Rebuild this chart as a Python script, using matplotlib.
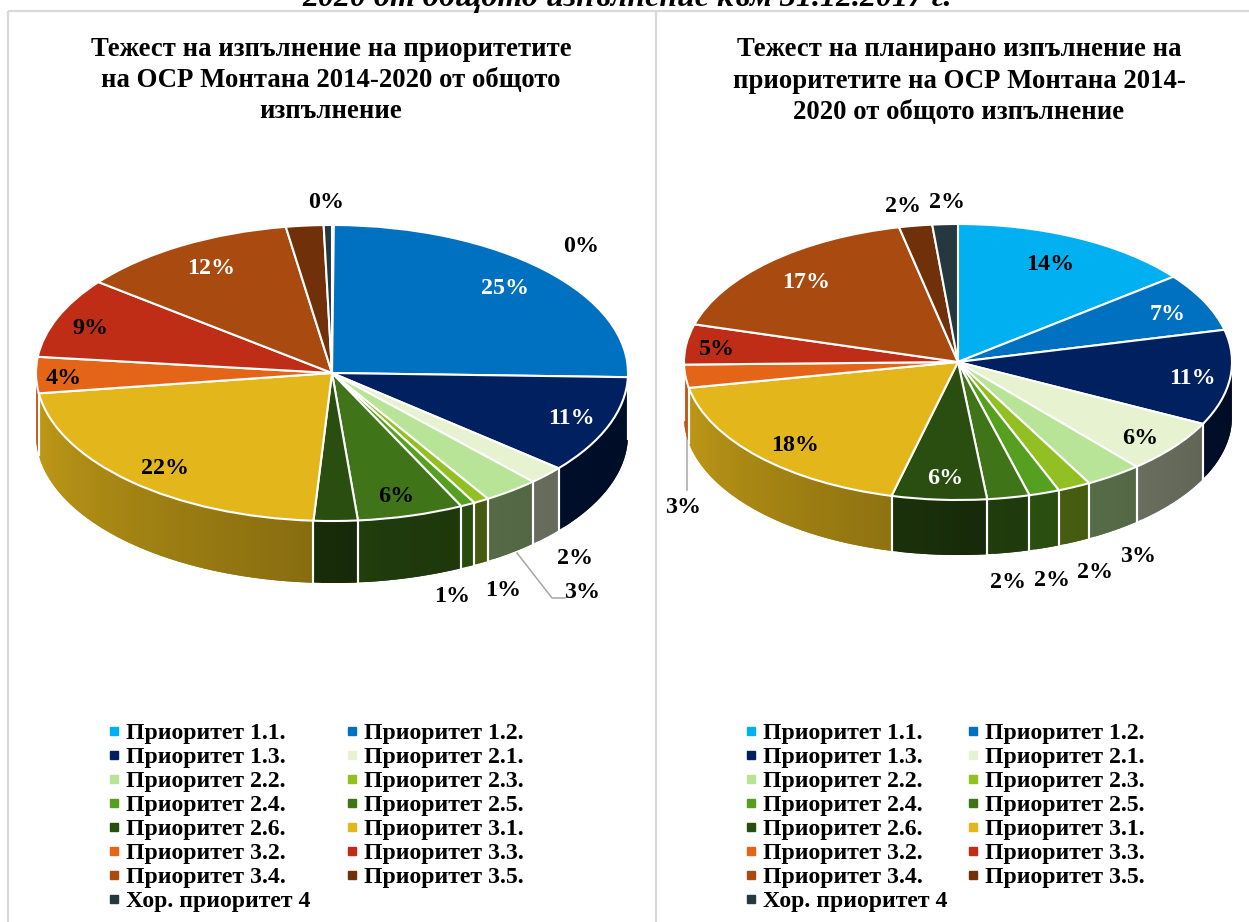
import numpy as np
import matplotlib
matplotlib.use("Agg")
import matplotlib.pyplot as plt
from matplotlib.colors import to_rgb
from matplotlib.lines import Line2D

W, H = 1249, 922

# ── Data ───────────────────────────────────────────────────────────────────────
names = ["Приоритет 1.1.", "Приоритет 1.2.", "Приоритет 1.3.", "Приоритет 2.1.",
         "Приоритет 2.2.", "Приоритет 2.3.", "Приоритет 2.4.", "Приоритет 2.5.",
         "Приоритет 2.6.", "Приоритет 3.1.", "Приоритет 3.2.", "Приоритет 3.3.",
         "Приоритет 3.4.", "Приоритет 3.5.", "Хор. приоритет 4"]
colors = ["#00B0F0", "#0070C0", "#002060", "#E6F2D0", "#B7E496", "#92C022", "#55A020",
          "#3F7518", "#2A4D10", "#E3B61B", "#E46418", "#C02D16", "#A94B10", "#70310A",
          "#25383F"]

left_vals = [0.1, 25.4, 10.7, 2.0, 3.05, 0.85, 0.8, 5.8, 2.4, 21.85, 3.95, 8.8, 12.0, 2.05, 0.45]
left_text = ["0%", "25%", "11%", "2%", "3%", "1%", "1%", "6%", "", "22%", "4%", "9%", "12%", "", "0%"]
right_vals = [14.4, 6.85, 11.15, 6.3, 3.35, 1.95, 1.8, 2.5, 5.6, 18.1, 2.7, 4.7, 17.15, 1.95, 1.5]
right_text = ["14%", "7%", "11%", "6%", "3%", "2%", "2%", "2%", "6%", "18%", "3%", "5%", "17%", "2%", "2%"]

header = "2020 от общото изпълнение към 31.12.2017 г."
left_title = ["Тежест на изпълнение на приоритетите", "на ОСР Монтана 2014-2020 от общото", "изпълнение"]
right_title = ["Тежест на планирано изпълнение на", "приоритетите на ОСР Монтана 2014-", "2020 от общото изпълнение"]

# ── Label placement (pixels) ───────────────────────────────────────────────────
left_pos = [(581, 246), (505, 288), (571, 418), (575, 558), (582, 592), (503, 590), (452, 596),
            (396, 496), None, (165, 468), (64, 378), (90, 328), (211, 268), None, (326, 202)]
left_white = {1, 2, 12}
right_pos = [(1050, 264), (1168, 314), (1192, 378), (1140, 438), (1138, 556), (1095, 572), (1052, 580),
             (1008, 582), (945, 478), (795, 445), (683, 507), (717, 349), (806, 282), (903, 206), (947, 202)]
right_white = {1, 2, 8, 12}

SERIF = "Liberation Serif"


def px(size):
    return size * 72 / 100


fig = plt.figure(figsize=(W / 100, H / 100), dpi=100)
bg = fig.add_axes([0, 0, 1, 1])
bg.set_xlim(0, W)
bg.set_ylim(H, 0)
bg.axis("off")

# panel borders
for xs, ys in [((8, W), (11, 11)), ((8, 8), (11, H)), ((656, 656), (11, H))]:
    bg.plot(xs, ys, color="#D9D9D9", lw=1.6, solid_capstyle="butt")

# leader lines
bg.plot([517, 552, 565], [553, 598, 598], color="#A6A6A6", lw=1.1)
bg.plot([687, 687], [387, 490], color="#A6A6A6", lw=1.1, zorder=0)


def shade(t):
    return np.interp(t, [90, 170, 185, 270], [0.38, 0.5, 0.6, 0.87])


def pie3d(vals, cx, cy, rx, ry, depth):
    d = depth / ry
    ax = fig.add_axes([(cx - rx) / W, 1 - (cy + ry + depth) / H, 2 * rx / W, (2 * ry + depth) / H])
    ax.patch.set_alpha(0)
    wedges, _ = ax.pie(vals, colors=colors, startangle=90, counterclock=False, radius=1,
                       wedgeprops={"edgecolor": "white", "linewidth": 1.5, "clip_on": False})
    ax.set_aspect("auto")
    ax.set_xlim(-1, 1)
    ax.set_ylim(-1 - d, 1)
    ax.axis("off")
    for w, col in zip(wedges, colors):
        a, b = max(w.theta1, -180), min(w.theta2, 0)
        w.set_zorder(5)
        if b <= a:
            continue
        edges = np.linspace(a, b, max(2, int((b - a) / 1.5) + 2))
        rgb = np.array(to_rgb(col))
        # strips overlap the next one so no seams show
        for k in range(len(edges) - 1):
            e0, e1 = edges[k], edges[min(k + 2, len(edges) - 1)]
            th = np.radians(np.linspace(e0, e1, 5))
            x = np.cos(th)
            y = np.sin(th)
            c = rgb * shade(90 - (edges[k] + edges[k + 1]) / 2)
            ax.fill(np.r_[x, x[::-1]], np.r_[y, y[::-1] - d], color=c, lw=0, zorder=1, clip_on=False)
        for e in (a, b):
            if -180 < e < 0:
                x0, y0 = np.cos(np.radians(e)), np.sin(np.radians(e))
                ax.plot([x0, x0], [y0, y0 - d], color="white", lw=1.5, zorder=2)
    return ax


pie3d(left_vals, 332, 373, 296, 148, 62)
pie3d(right_vals, 958, 362, 274, 138, 55)

# text goes on a top layer
top = fig.add_axes([0, 0, 1, 1])
top.set_xlim(0, W)
top.set_ylim(H, 0)
top.axis("off")
top.patch.set_alpha(0)

bold = {"family": SERIF, "weight": "bold"}
top.text(627, 6, header, ha="center", va="baseline", fontsize=px(32), style="italic", **bold)
for line, y in zip(left_title, (49, 80, 111)):
    top.text(331, y, line, ha="center", va="center", fontsize=px(26.8), **bold)
for line, y in zip(right_title, (49, 81, 112)):
    top.text(959, y, line, ha="center", va="center", fontsize=px(26.7), **bold)

for lab, pos, idx in [(left_text, left_pos, left_white), (right_text, right_pos, right_white)]:
    for i, (s, p) in enumerate(zip(lab, pos)):
        if p is None or not s:
            continue
        top.text(p[0], p[1], s, ha="center", va="center", fontsize=px(24),
                 color="white" if i in idx else "black", **bold)

# legends, filled row by row in the original
order = list(range(0, 15, 2)) + list(range(1, 15, 2))
for lx, gap in [(108, 1.47), (745, 0.8)]:
    handles = [Line2D([], [], marker="s", ls="none", color=colors[i], ms=5.2) for i in order]
    fig.legend(handles, [names[i] for i in order], ncol=2, loc="upper left",
               bbox_to_anchor=(lx / W, 1 - 722.5 / H), frameon=False,
               prop={"family": SERIF, "weight": "bold", "size": px(23.8)},
               borderpad=0, borderaxespad=0, handlelength=0.5, handletextpad=0.27,
               labelspacing=0.1, columnspacing=gap)

fig.savefig("out.png", dpi=100)
